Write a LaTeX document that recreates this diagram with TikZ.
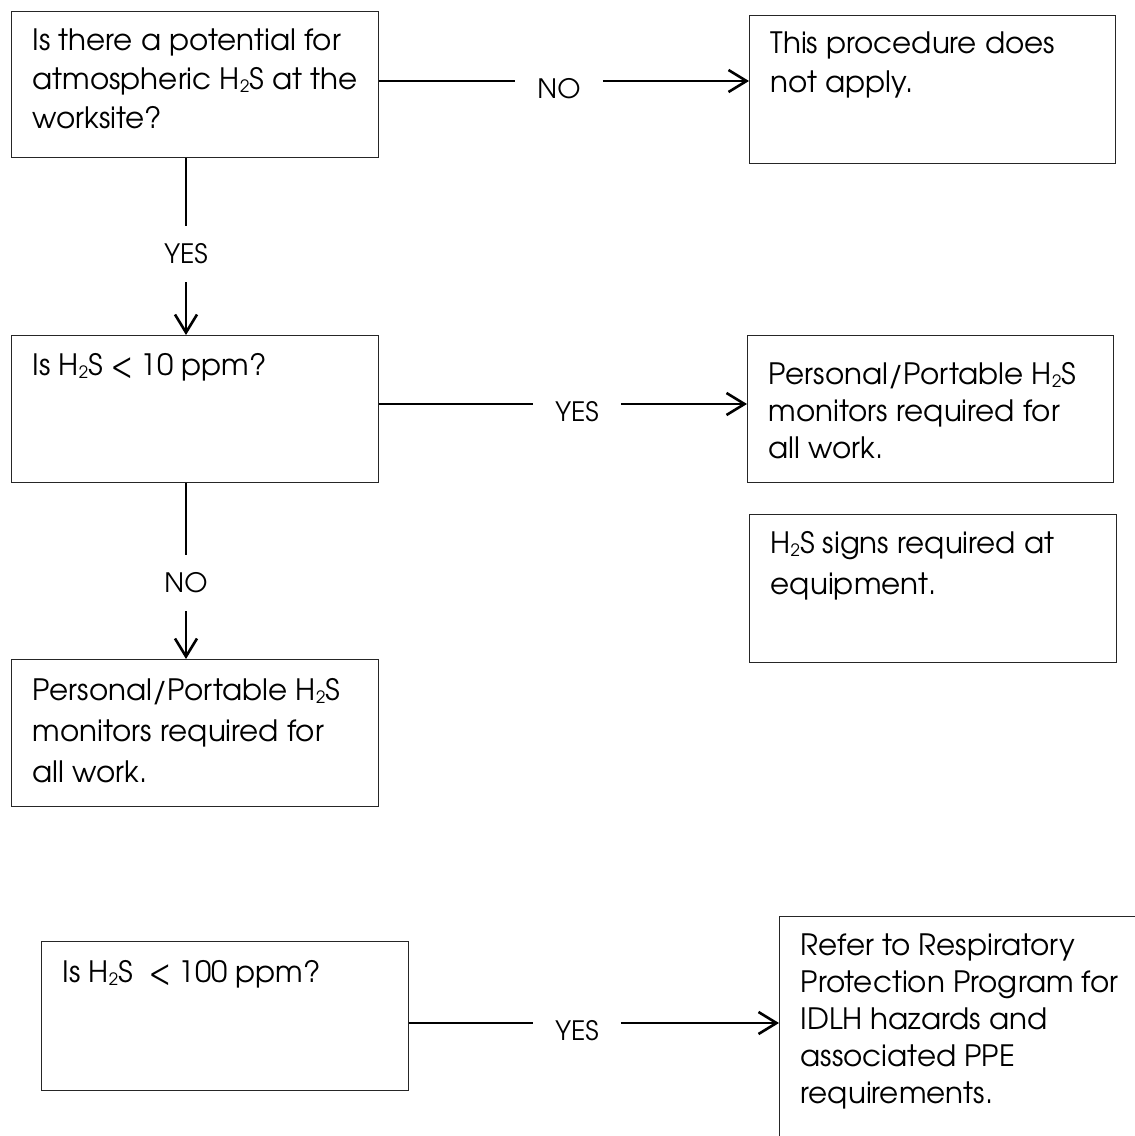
\documentclass[tikz,border=0pt]{standalone}
\usepackage{fontspec}
\setmainfont{texgyreadventor-regular.otf}
\usetikzlibrary{arrows.meta}

\newcommand\hts{H\raisebox{-0.15ex}{\fontsize{17}{17}\selectfont 2}S}
% width, height, first baseline, line distance, text
\newcommand\boxtext[5]{\parbox[t][#2pt][t]{#1pt}{\fontsize{29.4}{39}\selectfont\parindent=0pt\leftskip=21pt\baselineskip=#4pt\rule{0pt}{#3pt}#5}}

\begin{document}
\begin{tikzpicture}[
        x=1pt, y=-1pt,
        font=\fontsize{26.7}{39}\selectfont,
        flowbox/.style={draw=black!85, line width=1.3pt, anchor=north west, inner sep=0pt},
        flowlbl/.style={inner xsep=22pt, inner ysep=0pt, text height=35pt, text depth=0pt},
        vertlbl/.style={inner xsep=0pt, inner ysep=18pt},
        flowline/.style={line width=2.6pt},
        flowarrow/.style={flowline, -{Straight Barb[length=18pt,width=22pt]}}
    ]
    \useasboundingbox[fill=white] (0,0) rectangle (1135,1136);
    \clip (0,0) rectangle (1135,1136);

    % questions
    \node[flowbox] (qPot)  at (11,11)  {\boxtext{367}{146}{39}{39}{Is there a potential for\\atmospheric \hts{} at the\\worksite?}};
    \node[flowbox] (qTen)  at (11,335) {\boxtext{367}{147}{40}{39}{Is \hts{} < 10 ppm?}};
    \node[flowbox] (qHund) at (41,941) {\boxtext{367}{149}{41}{39}{Is \hts{} \ < 100 ppm?}};

    % results
    \node[flowbox] (rNone)  at (749,15)  {\boxtext{366}{148}{38}{39}{This procedure does\\not apply.}};
    \node[flowbox] (rMonA)  at (747,335) {\boxtext{366}{147}{49}{37}{Personal/Portable \hts\\monitors required for\\all work.}};
    \node[flowbox] (rSigns) at (749,514) {\boxtext{367}{148}{39}{41}{\hts{} signs required at\\equipment.}};
    \node[flowbox] (rMonB)  at (11,659)  {\boxtext{367}{147}{41}{41}{Personal/Portable \hts\\monitors required for\\all work.}};
    \node[flowbox] (rResp)  at (779,916) {\boxtext{400}{260}{39}{37}{Refer to Respiratory\\Protection Program for\\IDLH hazards and\\associated PPE\\requirements.}};

    % answers
    \node[flowlbl] (nNo)   at (559,81)   {NO};
    \node[flowlbl] (nYes2) at (577,404)  {YES};
    \node[flowlbl] (nYes3) at (577,1023) {YES};
    \node[vertlbl] (nYes1) at (186,254)  {YES};
    \node[vertlbl] (nNo2)  at (186,583)  {NO};

    \draw[flowline]  (qPot.east |- nNo) -- (nNo);
    \draw[flowarrow] (nNo) -- (nNo -| rNone.west);
    \draw[flowline]  (qPot.south -| nYes1) -- (nYes1);
    \draw[flowarrow] (nYes1) -- (nYes1 |- qTen.north);
    \draw[flowline]  (qTen.east |- nYes2) -- (nYes2);
    \draw[flowarrow] (nYes2) -- (nYes2 -| rMonA.west);
    \draw[flowline]  (qTen.south -| nNo2) -- (nNo2);
    \draw[flowarrow] (nNo2) -- (nNo2 |- rMonB.north);
    \draw[flowline]  (qHund.east |- nYes3) -- (nYes3);
    \draw[flowarrow] (nYes3) -- (nYes3 -| rResp.west);
\end{tikzpicture}
\end{document}
